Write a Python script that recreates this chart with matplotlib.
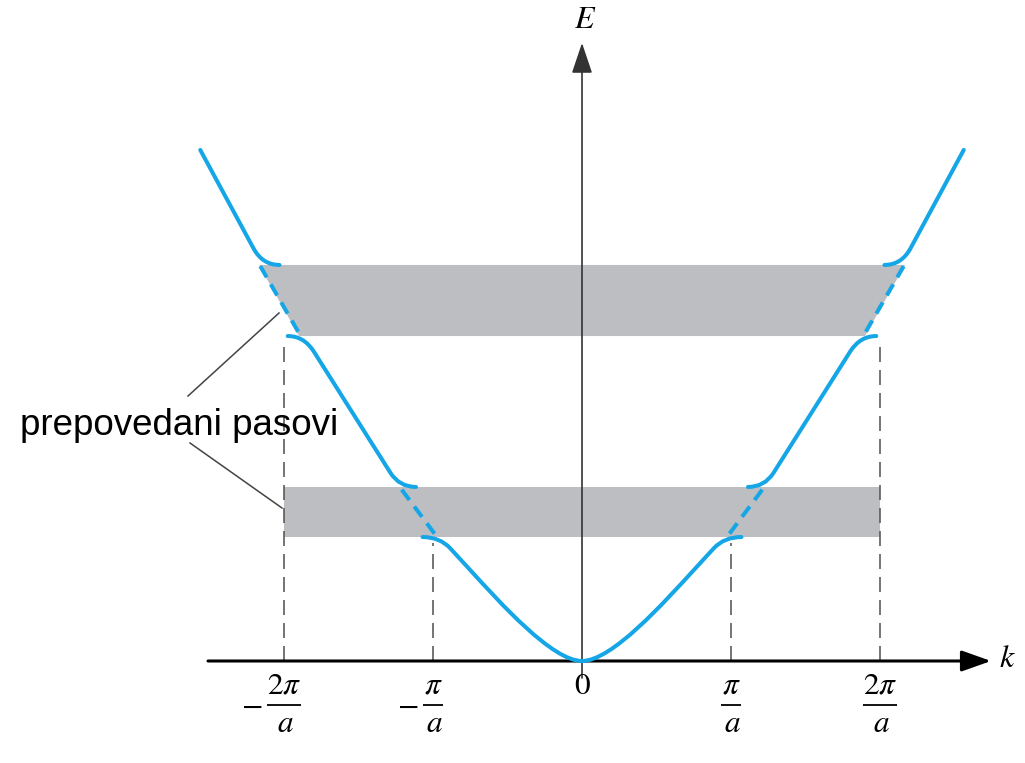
import matplotlib
matplotlib.use("Agg")
import matplotlib.pyplot as plt
from matplotlib.path import Path
from matplotlib.patches import PathPatch, Polygon

plt.rcParams['mathtext.fontset'] = 'stix'

# ---------------- data (k in units of pi/a, E in arbitrary units) ----------------
k_ticks = [-2, -1, 0, 1, 2]
tick_num = [r'$2\pi$', r'$\pi$', r'$0$', r'$\pi$', r'$2\pi$']
tick_den = [r'$a$', r'$a$', None, r'$a$', r'$a$']
tick_neg = [True, True, False, False, False]

gap_lower = (0.832, 1.168)          # forbidden band 1 (E bottom, E top)
gap_upper = (2.181, 2.658)          # forbidden band 2
gap_lower_k = 2.0                   # rectangle spans -2..2 (pi/a)
gap_upper_k_top = 2.168             # trapezoid half-width at top
gap_upper_k_bot = 1.899             # trapezoid half-width at bottom

# allowed bands (right half, mirrored for k<0): Bezier control points
band1_pts = [(0, 0), (0.20, 0), (0.55, 0.392), (0.75, 0.61), (0.885, 0.757), (0.954, 0.832), (1.07, 0.832)]
band2_pts = [(1.114, 1.168), (1.225, 1.168), (1.285, 1.262), (1.80, 2.077), (1.866, 2.181), (1.975, 2.181)]
band3_pts = [(2.03, 2.658), (2.145, 2.658), (2.205, 2.77), (2.562, 3.43)]

# free-electron continuation inside the gaps (dashed)
free_lower = [(0.99, 0.855), (1.21, 1.15)]
free_upper = [(1.905, 2.21), (2.165, 2.66)]

# vertical guide heights at k = pi/a, 2pi/a
guide_top = {1: 0.79, 2: 2.12}

label_text = "prepovedani pasovi"

# ---------------- figure ----------------
S = 149.0   # px per unit
X0, Y0 = 582.0, 661.0
W, H = 1025, 763
fig = plt.figure(figsize=(W / 100, H / 100), dpi=100)
ax = fig.add_axes([0, 0, 1, 1])
ax.set_xlim(-X0 / S, (W - X0) / S)
ax.set_ylim((Y0 - H) / S, Y0 / S)
ax.axis('off')


def px(x=None, y=None):
    """pixel position -> data position"""
    if y is None:
        return (x - X0) / S
    if x is None:
        return (Y0 - y) / S
    return (x - X0) / S, (Y0 - y) / S


blue = '#14a6e6'
gray_band = '#bdbec2'
lw_curve = 2.9

# forbidden bands
ax.add_patch(Polygon([(-gap_lower_k, gap_lower[0]), (gap_lower_k, gap_lower[0]),
                      (gap_lower_k, gap_lower[1]), (-gap_lower_k, gap_lower[1])],
                     closed=True, facecolor=gray_band, edgecolor='none', zorder=1))
ax.add_patch(Polygon([(-gap_upper_k_bot, gap_upper[0]), (gap_upper_k_bot, gap_upper[0]),
                      (gap_upper_k_top, gap_upper[1]), (-gap_upper_k_top, gap_upper[1])],
                     closed=True, facecolor=gray_band, edgecolor='none', zorder=1))

# vertical dashed guides
for kk, top in guide_top.items():
    for s in (-1, 1):
        ax.plot([s * kk, s * kk], [0, top], color='#555555', lw=1.15,
                dashes=(9.4, 5.0), zorder=2)

# axes with arrows
ax.annotate('', xy=(2.745, 0), xytext=(-2.51, 0),
            arrowprops=dict(arrowstyle='-|>,head_length=0.9,head_width=0.32',
                            color='black', lw=2.2, shrinkA=0, shrinkB=0,
                            mutation_scale=20), zorder=3)
ax.annotate('', xy=(0, 4.148), xytext=(0, px(y=678)),
            arrowprops=dict(arrowstyle='-|>,head_length=0.95,head_width=0.32',
                            color='#333333', lw=1.2, shrinkA=0, shrinkB=0,
                            mutation_scale=20), zorder=3)
ax.text(2.855, 0.02, r'$k$', fontsize=23, ha='center', va='center', zorder=4)
ax.text(0.02, px(y=20), r'$E$', fontsize=23, ha='center', va='center', zorder=4)

# bands
C = {'M': Path.MOVETO, 'L': Path.LINETO, 'Q': Path.CURVE3, 'C': Path.CURVE4}
band_codes = [
    (band1_pts, 'MCCCLQQ'),
    (band2_pts, 'MQQLQQ'),
    (band3_pts, 'MQQL'),
]
for pts, codes in band_codes:
    for s in (1, -1):
        verts = [(s * x, y) for x, y in pts]
        p = Path(verts, [C[c] for c in codes])
        ax.add_patch(PathPatch(p, facecolor='none', edgecolor=blue, lw=lw_curve,
                               capstyle='round', joinstyle='round', zorder=5))

for seg in (free_lower, free_upper):
    for s in (1, -1):
        ax.plot([s * seg[0][0], s * seg[1][0]], [seg[0][1], seg[1][1]],
                color=blue, lw=lw_curve, dashes=(3.2, 2.0), zorder=5)

# tick labels (stacked fractions)
y_num, y_bar, y_den = px(y=685), px(y=705), px(y=724)
fs_tick = 22.5
for kk, num, den, neg in zip(k_ticks, tick_num, tick_den, tick_neg):
    ax.text(kk, y_num, num, fontsize=fs_tick, ha='center', va='center')
    if den is not None:
        half = (17 if '2' in num else 10) / S
        ax.plot([kk - half, kk + half], [y_bar, y_bar], color='black', lw=1.3,
                solid_capstyle='butt')
        ax.text(kk + 0.01, y_den, den, fontsize=fs_tick, ha='center', va='center')
    if neg:
        off = (32 if '2' in num else 25) / S
        ax.text(kk - off, y_bar, r'$-$', fontsize=fs_tick, ha='center', va='center')

# annotation label with leader lines
ax.text(px(x=20), px(y=435), label_text, fontsize=26.5,
        family='Liberation Sans', ha='left', va='baseline', zorder=6)
ax.plot([px(x=188), px(x=279)], [px(y=396), px(y=313)], color='#444444', lw=1.1, zorder=4)
ax.plot([px(x=190), px(x=282)], [px(y=443), px(y=508)], color='#444444', lw=1.1, zorder=4)

fig.savefig('out.png', dpi=100)
